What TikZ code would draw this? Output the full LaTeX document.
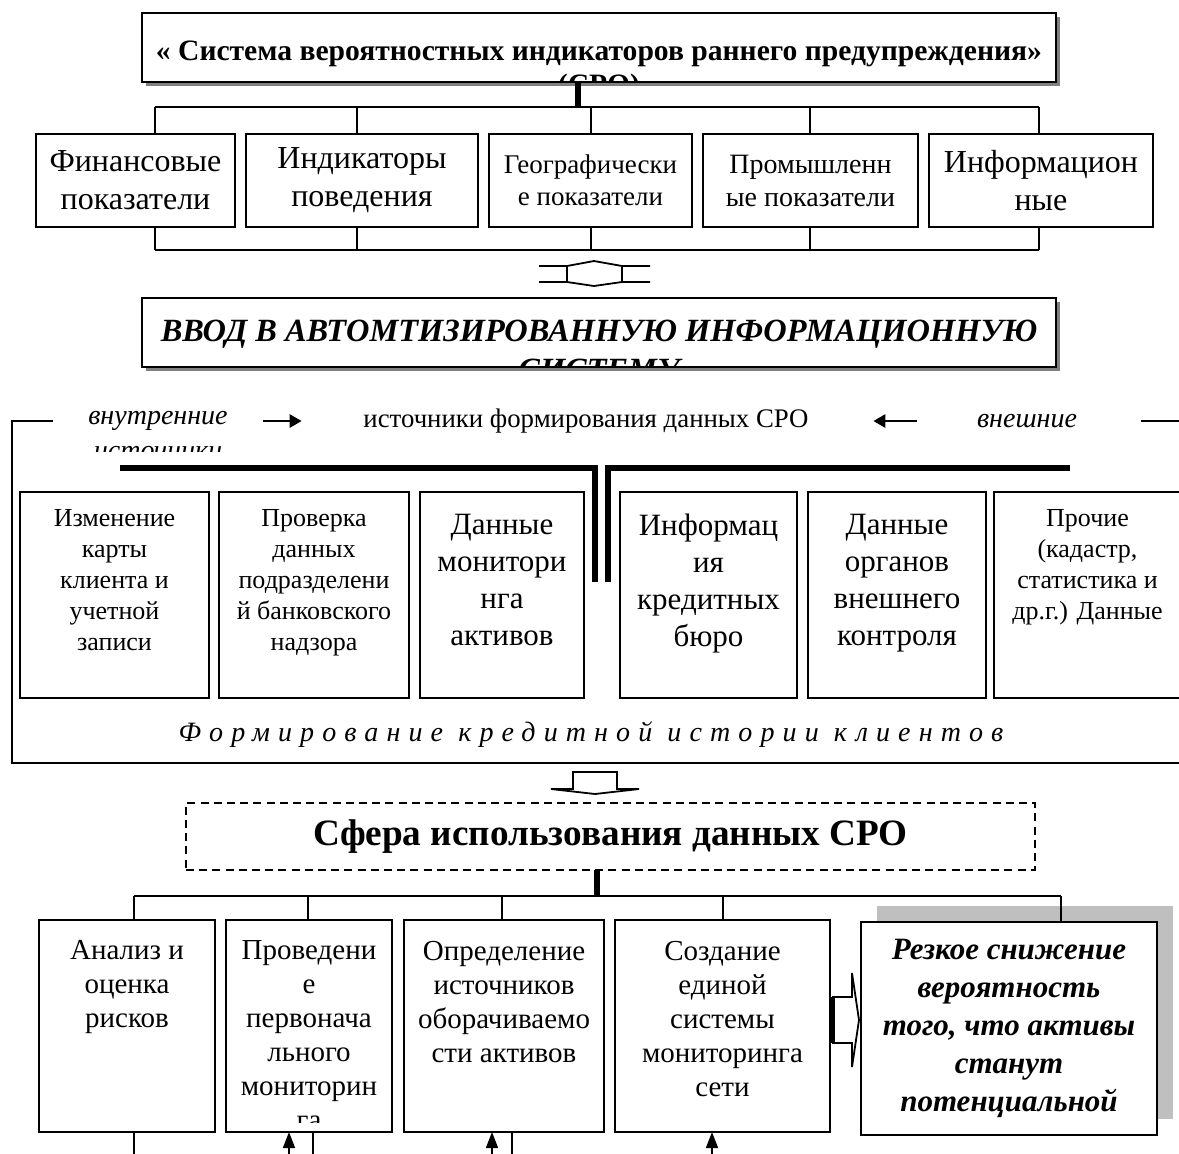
\documentclass[tikz,border=0pt]{standalone}
\usepackage{fontspec}
\setmainfont{Liberation Serif}
\newfontfamily\spacedfont[LetterSpace=29]{Liberation Serif}
\usetikzlibrary{arrows.meta,shadows}

\tikzset{
  frame/.style={draw, line width=0.8pt, anchor=north west, inner sep=0pt, outer sep=0pt},
  headframe/.style={frame, line width=1.2pt, fill=white,
    drop shadow={shadow xshift=2.2pt, shadow yshift=-2.2pt, fill=black!50, opacity=1}},
  usgframe/.style={frame, dash pattern=on 4pt off 2.6pt},
  resframe/.style={frame, line width=1pt, fill=white,
    drop shadow={shadow xshift=8pt, shadow yshift=8pt, fill=black!25, opacity=1}},
  bigtxt/.style={align=center, inner sep=0pt, font=\fontsize{16}{19}\selectfont},
  largetxt/.style={align=center, inner sep=0pt, font=\fontsize{15.5}{18.5}\selectfont},
  midtxt/.style={align=center, inner sep=0pt, font=\fontsize{14}{16.5}\selectfont},
  smalltxt/.style={align=center, inner sep=0pt, font=\fontsize{13}{15.5}\selectfont},
  usetxt/.style={align=center, inner sep=0pt, font=\fontsize{14.5}{17}\selectfont},
  srcarrow/.style={line width=1.3pt, -{Triangle[length=6pt,width=6.5pt]}},
  uparrow/.style={line width=0.8pt, -{Triangle[length=8pt,width=6pt]}},
  thickbar/.style={line width=3pt},
  hollow/.style={line width=0.9pt, line join=miter}
}

\begin{document}
\begin{tikzpicture}[x=0.5pt, y=-0.5pt, line width=0.8pt]
\useasboundingbox (0,0) rectangle (1179,1153);

% title box
\node[headframe, minimum width=457pt, minimum height=34.5pt] (head) at (142,13) {};
\begin{scope}
\clip (head.north west) rectangle (head.south east);
\node[align=center, inner sep=0pt, anchor=north, font=\bfseries\fontsize{14.8}{17}\selectfont] (headtxt)
  at ([yshift=-13.5pt]head.north) {« Система вероятностных индикаторов раннего предупреждения»\\(СРО)};
\end{scope}

% indicator groups
\node[frame, bigtxt, minimum width=99.5pt, minimum height=46.5pt] (f1) at (36,134) {Финансовые\\показатели};
\node[frame, bigtxt, minimum width=116pt, minimum height=46.5pt] (f2) at (246,134) {Индикаторы\\поведения};
\node[frame, smalltxt, font=\fontsize{13.5}{16}\selectfont, minimum width=101.5pt, minimum height=46.5pt] (f3) at (489,134) {Географически\\е показатели};
\node[frame, midtxt, minimum width=107.5pt, minimum height=46.5pt] (f4) at (703,134) {Промышленн\\ые показатели};
\node[frame, bigtxt, minimum width=112pt, minimum height=46.5pt] (f5) at (929,134) {Информацион\\ные};

\coordinate (fhub) at (578,107);
\draw[thickbar] (head.south -| fhub) -- (fhub);
\draw (155,107) -- (1039,107);
\draw (155,250) -- (1039,250);
\foreach \b/\x in {f1/155,f2/357,f3/591,f4/810,f5/1039}{
  \draw (\x,107) -- (\b.north -| \x,0);
  \draw (\b.south -| \x,0) -- (\x,250);
}

% two-way arrow
\draw[hollow] (539,266) -- (567,266) -- (594,261) -- (622,266) -- (650,266)
  (539,282) -- (567,282) -- (594,286) -- (622,282) -- (650,282)
  (567,266) -- (567,282) (622,266) -- (622,282);

% input box
\node[headframe, minimum width=457pt, minimum height=34.5pt] (wwod) at (142,298) {};
\begin{scope}
\clip (wwod.north west) rectangle (wwod.south east);
\node[align=center, inner sep=0pt, anchor=north, font=\bfseries\itshape\fontsize{16.2}{19.5}\selectfont] (wwodtxt)
  at ([yshift=-10.5pt]wwod.north) {ВВОД В АВТОМТИЗИРОВАННУЮ ИНФОРМАЦИОННУЮ\\СИСТЕМУ};
\end{scope}

% sources line
\node[inner sep=0pt, font=\itshape\fontsize{14}{16}\selectfont] (inner) at (158,421) {внутренние};
\begin{scope}
\clip (80,430) rectangle (240,451);
\node[inner sep=0pt, font=\itshape\fontsize{14}{16}\selectfont] (inner2) at (158,453) {источники};
\end{scope}
\node[inner sep=0pt, font=\fontsize{13.4}{16}\selectfont] (src) at (586,421) {источники формирования данных СРО};
\node[inner sep=0pt, font=\itshape\fontsize{14}{16}\selectfont] (outer) at (1027,421) {внешние};
\draw[srcarrow] ([xshift=17.5pt]inner.east) -- ([xshift=-30.5pt]src.west);
\draw[srcarrow] ([xshift=-29.5pt]outer.west) -- ([xshift=32pt]src.east);
\draw ([xshift=-17.5pt]inner.west) -- (12,421) -- (12,763) -- (1190,763);
\draw ([xshift=31.5pt]outer.east) -- (1190,421);

\draw[line width=2.6pt] (120,468) -| (595,582);
\draw[line width=2.6pt] (1070,468) -| (608,582);

% source boxes
\node[frame, minimum width=94.5pt, minimum height=103pt] (s1) at (20,492) {};
\node[frame, minimum width=95pt, minimum height=103pt] (s2) at (219,492) {};
\node[frame, minimum width=82pt, minimum height=103pt] (s3) at (420,492) {};
\node[frame, minimum width=88.5pt, minimum height=103pt] (s4) at (620,492) {};
\node[frame, minimum width=89pt, minimum height=103pt] (s5) at (808,492) {};
\node[frame, minimum width=93.5pt, minimum height=103pt] (s6) at (994,492) {};
\node[smalltxt, anchor=north] (s1t) at ([yshift=-8.5pt]s1.north) {Изменение\\карты\\клиента и\\учетной\\записи};
\node[smalltxt, anchor=north] (s2t) at ([yshift=-8.5pt]s2.north) {Проверка\\данных\\подразделени\\й банковского\\надзора};
\node[largetxt, anchor=north] (s3t) at ([yshift=-10.5pt]s3.north) {Данные\\монитори\\нга\\активов};
\node[largetxt, anchor=north] (s4t) at ([yshift=-10.5pt]s4.north) {Информац\\ия\\кредитных\\бюро};
\node[largetxt, anchor=north] (s5t) at ([yshift=-10.5pt]s5.north) {Данные\\органов\\внешнего\\контроля};
\node[smalltxt, anchor=north] (s6t) at ([yshift=-8.5pt]s6.north) {Прочие\\(кадастр,\\статистика и\\др.г.) Данные};

\node[inner sep=0pt, font=\spacedfont\itshape\fontsize{14}{16}\selectfont] (hist) at (591,735) {Формирование кредитной истории клиентов};

% down arrow
\draw[hollow] (551,789) -- (573,789) -- (573,772) -- (617,772) -- (617,789) -- (639,789) -- (595,794) -- cycle;

% usage
\node[usgframe, minimum width=424.5pt, minimum height=33.5pt, font=\bfseries\fontsize{18.6}{22}\selectfont] (use) at (186,803) {Сфера использования данных СРО};

\node[frame, minimum width=88pt, minimum height=106pt] (c1) at (39,920) {};
\node[frame, minimum width=83pt, minimum height=106pt] (c2) at (226,920) {};
\node[frame, minimum width=100pt, minimum height=106pt] (c3) at (404,920) {};
\node[frame, minimum width=107.5pt, minimum height=106pt] (c4) at (615,920) {};
\node[resframe, minimum width=148pt, minimum height=106.5pt, align=center,
  font=\bfseries\itshape\fontsize{15.5}{19}\selectfont] (c5) at (861,922)
  {Резкое снижение\\вероятность\\того, что активы\\станут\\потенциальной};
\node[usetxt, anchor=north] (c1t) at ([yshift=-10pt]c1.north) {Анализ и\\оценка\\рисков};
\begin{scope}
\clip (c2.north west) rectangle ([yshift=5pt]c2.south east);
\node[usetxt, anchor=north] (c2t) at ([yshift=-10pt]c2.north) {Проведени\\е\\первонача\\льного\\мониторин\\га};
\end{scope}
\node[usetxt, anchor=north] (c3t) at ([yshift=-10pt]c3.north) {Определение\\источников\\оборачиваемо\\сти активов};
\node[usetxt, anchor=north] (c4t) at ([yshift=-10pt]c4.north) {Создание\\единой\\системы\\мониторинга\\сети};

\coordinate (chub) at (597,896);
\draw[thickbar] (use.south -| chub) -- (chub);
\draw (134,896) -- (1061,896);
\foreach \b/\x in {c1/134,c2/308,c3/502,c4/723,c5/1061}{
  \draw (\x,896) -- (\b.north -| \x,0);
}

% arrow to result
\draw[hollow] (833,997) -- (852,997) -- (852,973) -- (859,1020) -- (852,1067) -- (852,1043) -- (833,1043) -- cycle;
\draw[line width=2pt] (833,997) -- (833,1043);

% lower links
\draw (c1.south -| 134,0) -- (134,1160);
\draw[uparrow] (289,1160) -- (c2.south -| 289,0);
\draw (c2.south -| 313,0) -- (313,1160);
\draw[uparrow] (492,1160) -- (c3.south -| 492,0);
\draw (c3.south -| 512,0) -- (512,1160);
\draw[uparrow] (712,1160) -- (c4.south -| 712,0);
\end{tikzpicture}
\end{document}
